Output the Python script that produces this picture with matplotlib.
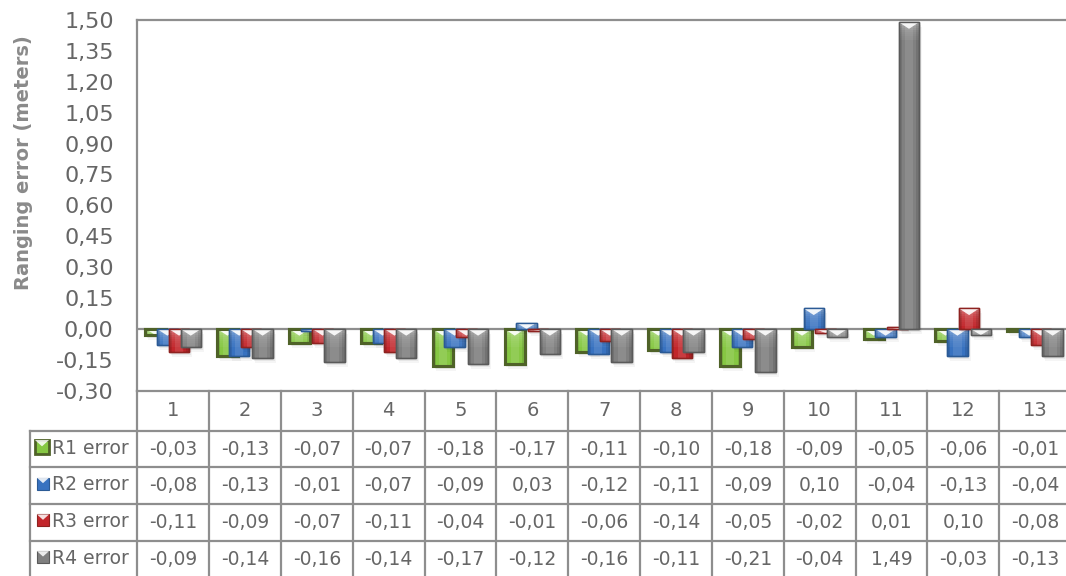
import numpy as np
import matplotlib
matplotlib.use("Agg")
import matplotlib.pyplot as plt
from matplotlib.patches import Rectangle, Polygon

plt.rcParams['font.family'] = ['DejaVu Sans']

# ---- data -------------------------------------------------------------
categories = ["1", "2", "3", "4", "5", "6", "7", "8", "9", "10", "11", "12", "13"]
series_names = ["R1 error", "R2 error", "R3 error", "R4 error"]
r1_error = [-0.03, -0.13, -0.07, -0.07, -0.18, -0.17, -0.11, -0.10, -0.18, -0.09, -0.05, -0.06, -0.01]
r2_error = [-0.08, -0.13, -0.01, -0.07, -0.09, 0.03, -0.12, -0.11, -0.09, 0.10, -0.04, -0.13, -0.04]
r3_error = [-0.11, -0.09, -0.07, -0.11, -0.04, -0.01, -0.06, -0.14, -0.05, -0.02, 0.01, 0.10, -0.08]
r4_error = [-0.09, -0.14, -0.16, -0.14, -0.17, -0.12, -0.16, -0.11, -0.21, -0.04, 1.49, -0.03, -0.13]
y_ticks = [-0.30, -0.15, 0.00, 0.15, 0.30, 0.45, 0.60, 0.75, 0.90, 1.05, 1.20, 1.35, 1.50]
y_label = "Ranging error (meters)"

all_series = [r1_error, r2_error, r3_error, r4_error]
fill_colors = ["#86c743", "#3872c0", "#c2262b", "#808080"]
edge_colors = ["#4f6228", "#2b5a95", "#8e2220", "#5a5a5a"]
edge_widths = [2.2, 1.0, 1.0, 1.0]

TEXT = "#666666"
LINE = "#8e8e8e"

W, H = 1066, 576
fig = plt.figure(figsize=(W / 100, H / 100), dpi=100)

# plot area in pixel terms
ax_l, ax_r, ax_t, ax_b = 137.3, 1071.0, 20.0, 390.7
ax = fig.add_axes([ax_l / W, 1 - ax_b / H, (ax_r - ax_l) / W, (ax_b - ax_t) / H])
ax.set_xlim(-0.5, len(categories) - 0.5)
ax.set_ylim(y_ticks[0], y_ticks[-1])

px_per_y = (ax_b - ax_t) / (y_ticks[-1] - y_ticks[0])
px_per_x = (ax_r - ax_l) / len(categories)

bar_w = 0.285
step = 0.163
x = np.arange(len(categories))


def bevel(bar):
    """Shadow, top glow, side shading and the white top notch of one bar."""
    x0, w = bar.get_x(), bar.get_width()
    y0, h = bar.get_y(), bar.get_height()
    bot, top = min(y0, y0 + h), max(y0, y0 + h)
    hh = top - bot
    z = bar.get_zorder()
    for k, a in ((1, 0.07), (3, 0.06), (5, 0.04)):
        ax.add_patch(Rectangle((x0 + 0.6 * k / px_per_x, bot - k / px_per_y), w, hh,
                               facecolor="black", alpha=a, edgecolor="none", zorder=z - 0.5))
    extras = []
    # light glow fading down from the top edge
    sp = 2.0 / px_per_y
    for k in range(9):
        a = 0.42 * np.exp(-(k * 2.0) / 7.0)
        extras.append(Rectangle((x0, top - (k + 1) * sp), w, sp, facecolor="white",
                                alpha=a, edgecolor="none", zorder=z + 0.1))
    # lighter centre, darker sides
    extras.append(Rectangle((x0 + 0.3 * w, bot), 0.4 * w, hh, facecolor="white",
                            alpha=0.10, edgecolor="none", zorder=z + 0.1))
    extras.append(Rectangle((x0, bot), 0.14 * w, hh, facecolor="black",
                            alpha=0.10, edgecolor="none", zorder=z + 0.1))
    extras.append(Rectangle((x0 + 0.86 * w, bot), 0.14 * w, hh, facecolor="black",
                            alpha=0.10, edgecolor="none", zorder=z + 0.1))
    depth = min(w * px_per_x * 0.33, hh * px_per_y) / px_per_y
    extras.append(Polygon([(x0, top), (x0 + w, top), (x0 + w / 2, top - depth)],
                          closed=True, facecolor="white", alpha=0.9,
                          edgecolor="none", zorder=z + 0.2))
    for p in extras:
        ax.add_patch(p)
        p.set_clip_path(bar)
    # outline on top of the shading
    ax.add_patch(Rectangle((x0, bot), w, hh, facecolor="none",
                           edgecolor=bar.get_edgecolor(), lw=bar.get_linewidth(),
                           zorder=z + 0.3))


for i, vals in enumerate(all_series):
    bars = ax.bar(x + (i - 1.5) * step, vals, width=bar_w, color=fill_colors[i],
                  edgecolor=edge_colors[i], linewidth=edge_widths[i], zorder=3 + i)
    for b in bars:
        bevel(b)

ax.axhline(0, color=LINE, lw=1.6, zorder=1)

for s in ["right", "bottom"]:
    ax.spines[s].set_visible(False)
for s in ["left", "top"]:
    ax.spines[s].set_color(LINE)
    ax.spines[s].set_linewidth(1.6)

ax.set_xticks([])
ax.set_yticks(y_ticks)
ax.set_yticklabels([f"{t:.2f}".replace(".", ",") for t in y_ticks])
ax.tick_params(axis="y", length=0, pad=17, labelsize=16, labelcolor=TEXT)

fig.text(24 / W, 1 - 163 / H, y_label, rotation=90, ha="center", va="center",
         fontsize=14, fontweight="bold", color="#8a8a8a")

# ---- data table below the plot ----------------------------------------
tb_l, tb_b = 30.0, 577.5
tax = fig.add_axes([tb_l / W, 1 - tb_b / H, (ax_r - tb_l) / W, (tb_b - ax_b) / H])
x_left = -0.5 - (ax_l - tb_l) / px_per_x
tax.set_xlim(x_left, len(categories) - 0.5)
tax.set_ylim(tb_b - ax_b, 0)
tax.axis("off")

header_h = 40.0
row_h = (tb_b - ax_b - header_h) / len(all_series)
row_edges = [header_h + k * row_h for k in range(len(all_series) + 1)]
n = len(categories)

# header row
tax.plot([-0.5, n - 0.5], [0, 0], color=LINE, lw=1.6, clip_on=False)
for k in range(n + 1):
    tax.plot([k - 0.5, k - 0.5], [0, tb_b - ax_b], color=LINE, lw=1.6, clip_on=False)
for j, c in enumerate(categories):
    tax.text(j, header_h / 2, c, ha="center", va="center", fontsize=14, color=TEXT)

# body rows
for yy in row_edges:
    tax.plot([x_left, n - 0.5], [yy, yy], color=LINE, lw=1.6, clip_on=False)
tax.plot([x_left, x_left], [header_h, tb_b - ax_b], color=LINE, lw=1.6, clip_on=False)

for i, (name, vals) in enumerate(zip(series_names, all_series)):
    yc = header_h + (i + 0.5) * row_h
    # legend key
    kh = 14 if i == 0 else 12
    ks = kh / px_per_x
    kx = x_left + (5 if i == 0 else 7) / px_per_x
    ky = yc - kh / 2 - 2
    key = Rectangle((kx, ky), ks, kh, facecolor=fill_colors[i],
                    edgecolor=edge_colors[i], lw=2.0 if i == 0 else 0.8, zorder=3)
    tax.add_patch(key)
    tri = Polygon([(kx, ky), (kx + ks, ky), (kx + ks / 2, ky + kh * 0.45)],
                  closed=True, facecolor="white", alpha=0.85, edgecolor="none", zorder=4)
    tax.add_patch(tri)
    tri.set_clip_path(key)
    tax.text(x_left + 22 / px_per_x, yc - 1, name, ha="left", va="center",
             fontsize=13.5, color=TEXT)
    for j, v in enumerate(vals):
        tax.text(j, yc, f"{v:.2f}".replace(".", ","), ha="center", va="center",
                 fontsize=13.5, color=TEXT)

fig.savefig("out.png", dpi=100)
